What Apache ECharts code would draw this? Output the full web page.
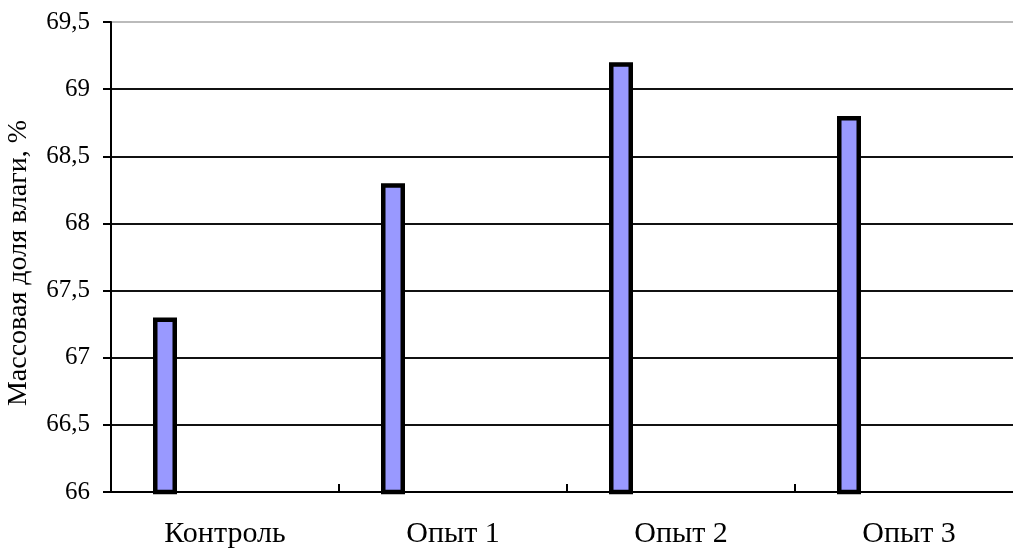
<!DOCTYPE html>
<html>
<head>
<meta charset="utf-8">
<script src="https://cdn.jsdelivr.net/npm/echarts@6/dist/echarts.min.js"></script>
<style>
  html, body { margin: 0; padding: 0; background: #fff; }
  #chart { width: 1013px; height: 551px; }
</style>
</head>
<body>
<div id="chart"></div>
<script>
// Moisture mass fraction by sample
const categories = ['Контроль', 'Опыт 1', 'Опыт 2', 'Опыт 3'];
const moisture = [67.3, 68.3, 69.2, 68.8];
const emptySeries = [null, null, null, null];
const yTicks = { min: 66, max: 69.5, step: 0.5 };
const yAxisTitle = 'Массовая доля влаги, %';

const FONT = '"Liberation Serif", "Times New Roman", serif';

const chart = echarts.init(document.getElementById('chart'), null, { renderer: 'canvas' });

chart.setOption({
  animation: false,
  backgroundColor: '#fff',
  grid: {
    left: 111, top: 22, width: 912, height: 470,
    containLabel: false, outerBoundsMode: 'none'
  },
  xAxis: {
    type: 'category',
    data: categories,
    axisLine: { show: true, lineStyle: { color: '#000', width: 2 } },
    axisTick: { show: true, inside: true, length: 8, lineStyle: { color: '#000', width: 2 } },
    axisLabel: { color: '#000', fontFamily: FONT, fontSize: 30, margin: 27 },
    splitLine: { show: false }
  },
  yAxis: {
    type: 'value',
    min: yTicks.min,
    max: yTicks.max,
    interval: yTicks.step,
    name: yAxisTitle,
    nameLocation: 'middle',
    nameGap: 78,
    nameTextStyle: { color: '#000', fontFamily: FONT, fontSize: 28, padding: [0, 12, 0, 0] },
    axisLine: { show: true, lineStyle: { color: '#000', width: 2 } },
    axisTick: { show: true, length: 8, lineStyle: { color: '#000', width: 2 } },
    axisLabel: {
      color: '#000', fontFamily: FONT, fontSize: 25, margin: 21,
      formatter: v => String(v).replace('.', ',')
    },
    splitLine: {
      show: true,
      lineStyle: {
        width: 2,
        color: ['#000', '#111', '#111', '#111', '#111', '#111', '#111', '#bbb']
      }
    }
  },
  series: [
    {
      type: 'bar',
      data: moisture,
      barWidth: 24,
      barGap: '400%',
      itemStyle: { color: '#9999ff', borderColor: '#000', borderWidth: 4.5 }
    },
    {
      type: 'bar',
      data: emptySeries,
      barWidth: 24,
      itemStyle: { color: '#993366', borderColor: '#000', borderWidth: 4.5 }
    }
  ]
});
</script>
</body>
</html>
